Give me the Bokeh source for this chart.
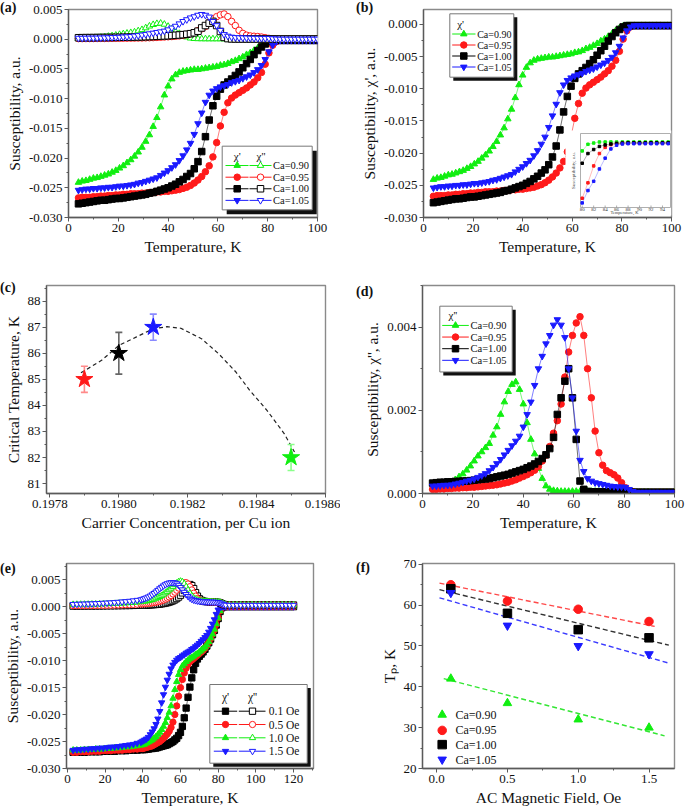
import math
from bokeh.plotting import figure
from bokeh.layouts import column, row
from bokeh.models import Range1d, SingleIntervalTicker, NumeralTickFormatter, Div, Label
from bokeh.embed import file_html
from bokeh.resources import INLINE

FONT = "Liberation Serif"
GREEN, RED, BLACK, BLUE = "#11ee11", "#ff1a1a", "#000000", "#1a1aff"

# ---------------------------------------------------------------- data
ca_labels = ["Ca=0.90", "Ca=0.95", "Ca=1.00", "Ca=1.05"]
ca_colors = [GREEN, RED, BLACK, BLUE]
ca_markers = ["triangle", "circle", "square", "inverted_triangle"]

T_ab = [4.0, 5.5, 7.0, 8.5, 10.0, 11.5, 13.0, 14.5, 16.0, 17.5, 19.0, 20.5, 22.0, 23.5, 25.0, 26.5,
        28.0, 29.5, 31.0, 32.5, 34.0, 35.5, 37.0, 38.5, 40.0, 41.5, 43.0, 44.5, 46.0, 47.5, 49.0, 50.5,
        52.0, 53.5, 55.0, 56.5, 58.0, 59.5, 61.0, 62.5, 64.0, 65.5, 67.0, 68.5, 70.0, 71.5, 73.0, 74.5,
        76.0, 77.5, 79.0, 80.5, 82.0, 83.5, 85.0, 86.5, 88.0, 89.5, 91.0, 92.5, 94.0, 95.5, 97.0, 98.5, 100.0]

chi1_090 = [-0.0241, -0.0239, -0.0238, -0.0236, -0.0234, -0.0233, -0.0231, -0.0229, -0.0227, -0.0224,
            -0.0221, -0.0217, -0.0213, -0.0208, -0.0203, -0.0197, -0.0190, -0.0182, -0.0172, -0.0161,
            -0.0147, -0.0132, -0.0114, -0.0094, -0.0079, -0.0067, -0.0060, -0.0056, -0.0054, -0.0053,
            -0.0052, -0.0051, -0.0051, -0.0050, -0.0049, -0.0048, -0.0047, -0.0046, -0.0044, -0.0043,
            -0.0041, -0.0038, -0.0036, -0.0033, -0.0030, -0.0026, -0.0023, -0.0019, -0.0015, -0.0010,
            -0.0006, -0.0003, -0.0002, -0.0002, -0.0002, -0.0002, -0.0002, -0.0002, -0.0002, -0.0002,
            -0.0002, -0.0002, -0.0002, -0.0002, -0.0002]
chi1_095 = [-0.0267, -0.0266, -0.0266, -0.0266, -0.0265, -0.0265, -0.0264, -0.0264, -0.0263, -0.0263,
            -0.0262, -0.0262, -0.0261, -0.0261, -0.0260, -0.0260, -0.0260, -0.0259, -0.0259, -0.0258,
            -0.0258, -0.0257, -0.0257, -0.0256, -0.0256, -0.0255, -0.0254, -0.0253, -0.0251, -0.0249,
            -0.0246, -0.0242, -0.0237, -0.0231, -0.0223, -0.0213, -0.0198, -0.0174, -0.0146, -0.0123,
            -0.0107, -0.0099, -0.0094, -0.0090, -0.0086, -0.0082, -0.0077, -0.0072, -0.0065, -0.0056,
            -0.0042, -0.0023, -0.0010, -0.0004, -0.0002, -0.0002, -0.0002, -0.0002, -0.0002, -0.0002,
            -0.0002, -0.0002, -0.0002, -0.0002, -0.0002]
chi1_100 = [-0.0277, -0.0276, -0.0275, -0.0274, -0.0273, -0.0272, -0.0271, -0.0271, -0.0270, -0.0269,
            -0.0268, -0.0268, -0.0267, -0.0266, -0.0265, -0.0264, -0.0263, -0.0262, -0.0261, -0.0259,
            -0.0258, -0.0256, -0.0254, -0.0252, -0.0250, -0.0247, -0.0244, -0.0240, -0.0236, -0.0231,
            -0.0226, -0.0218, -0.0206, -0.0189, -0.0164, -0.0136, -0.0112, -0.0096, -0.0084, -0.0077,
            -0.0072, -0.0067, -0.0061, -0.0055, -0.0048, -0.0041, -0.0034, -0.0026, -0.0019, -0.0013,
            -0.0008, -0.0004, -0.0002, -0.0002, -0.0002, -0.0002, -0.0002, -0.0002, -0.0002, -0.0002,
            -0.0002, -0.0002, -0.0002, -0.0002, -0.0002]
chi1_105 = [-0.0254, -0.0253, -0.0252, -0.0252, -0.0251, -0.0251, -0.0250, -0.0250, -0.0249, -0.0249,
            -0.0248, -0.0247, -0.0247, -0.0246, -0.0245, -0.0244, -0.0242, -0.0241, -0.0239, -0.0237,
            -0.0235, -0.0233, -0.0229, -0.0225, -0.0221, -0.0216, -0.0211, -0.0204, -0.0196, -0.0186,
            -0.0175, -0.0160, -0.0142, -0.0124, -0.0106, -0.0094, -0.0087, -0.0083, -0.0080, -0.0078,
            -0.0076, -0.0073, -0.0071, -0.0069, -0.0066, -0.0063, -0.0060, -0.0056, -0.0051, -0.0044,
            -0.0034, -0.0021, -0.0010, -0.0004, -0.0002, -0.0002, -0.0002, -0.0002, -0.0002, -0.0002,
            -0.0002, -0.0002, -0.0002, -0.0002, -0.0002]

chi2_090 = [0.00013, 0.00015, 0.00017, 0.00020, 0.00023, 0.00027, 0.00033, 0.00040, 0.00047, 0.00056,
            0.00066, 0.00078, 0.00090, 0.00100, 0.00110, 0.00120, 0.00140, 0.00160, 0.00190, 0.00220,
            0.00245, 0.00262, 0.00268, 0.00250, 0.00215, 0.00170, 0.00130, 0.00095, 0.00060, 0.00036,
            0.00018, 0.00010, 0.00007, 0.00006, 0.00005, 0.00005, 0.00005, 0.00005, 0.00005, 0.00005,
            0.00005, 0.00005, 0.00005, 0.00005, 0.00005, 0.00005, 0.00005, 0.00005, 0.00005, 0.00005,
            0.00004, 0.00004, 0.00004, 0.00004, 0.00004, 0.00004, 0.00004, 0.00004, 0.00003, 0.00003,
            0.00003, 0.00003, 0.00003, 0.00003, 0.00003]
chi2_095 = [0.00010, 0.00010, 0.00011, 0.00011, 0.00012, 0.00012, 0.00013, 0.00013, 0.00014, 0.00014,
            0.00015, 0.00015, 0.00016, 0.00017, 0.00018, 0.00019, 0.00020, 0.00021, 0.00023, 0.00025,
            0.00027, 0.00030, 0.00033, 0.00037, 0.00041, 0.00045, 0.00050, 0.00056, 0.00065, 0.00078,
            0.00092, 0.00113, 0.00145, 0.00175, 0.00215, 0.00280, 0.00340, 0.00380, 0.00410, 0.00425,
            0.00380, 0.00300, 0.00230, 0.00150, 0.00098, 0.00068, 0.00055, 0.00050, 0.00045, 0.00037,
            0.00026, 0.00014, 0.00007, 0.00004, 0.00003, 0.00003, 0.00003, 0.00003, 0.00003, 0.00003,
            0.00003, 0.00003, 0.00003, 0.00003, 0.00003]
chi2_100 = [0.00025, 0.00026, 0.00027, 0.00027, 0.00028, 0.00028, 0.00029, 0.00029, 0.00030, 0.00030,
            0.00031, 0.00032, 0.00033, 0.00034, 0.00035, 0.00036, 0.00038, 0.00040, 0.00042, 0.00044,
            0.00046, 0.00049, 0.00052, 0.00055, 0.00058, 0.00062, 0.00066, 0.00071, 0.00077, 0.00084,
            0.00093, 0.00108, 0.00135, 0.00190, 0.00230, 0.00270, 0.00300, 0.00230, 0.00130, 0.00030,
            0.00010, 0.00005, 0.00004, 0.00004, 0.00004, 0.00004, 0.00004, 0.00004, 0.00004, 0.00004,
            0.00004, 0.00004, 0.00004, 0.00003, 0.00003, 0.00003, 0.00003, 0.00003, 0.00003, 0.00003,
            0.00003, 0.00003, 0.00003, 0.00003, 0.00003]
chi2_105 = [0.00018, 0.00018, 0.00019, 0.00020, 0.00020, 0.00021, 0.00023, 0.00025, 0.00027, 0.00030,
            0.00032, 0.00035, 0.00039, 0.00043, 0.00048, 0.00055, 0.00063, 0.00072, 0.00082, 0.00093,
            0.00104, 0.00115, 0.00126, 0.00138, 0.00160, 0.00190, 0.00220, 0.00260, 0.00300, 0.00330,
            0.00360, 0.00380, 0.00405, 0.00418, 0.00405, 0.00375, 0.00300, 0.00230, 0.00150, 0.00080,
            0.00053, 0.00036, 0.00030, 0.00026, 0.00024, 0.00022, 0.00020, 0.00018, 0.00017, 0.00016,
            0.00016, 0.00015, 0.00010, 0.00005, 0.00003, 0.00003, 0.00003, 0.00003, 0.00003, 0.00003,
            0.00003, 0.00003, 0.00003, 0.00003, 0.00003]

# inset of panel (b)
T_ins = [80, 81, 82, 83, 84, 85, 86, 87, 88, 89, 90, 91, 92, 93, 94, 95]
ins_090 = [-0.00053, -0.00010, -0.00002, 0.00005, 0.00005, 0.00005, 0.00005, 0.00005, 0.00005, 0.00005,
           0.00005, 0.00005, 0.00005, 0.00005, 0.00005, 0.00005]
ins_095 = [-0.00360, -0.00260, -0.00150, -0.00070, -0.00030, -0.00012, -0.00006, -0.00004, -0.00003,
           -0.00003, -0.00003, -0.00003, -0.00003, -0.00003, -0.00003, -0.00003]
ins_100 = [-0.00133, -0.00070, -0.00044, -0.00024, -0.00014, -0.00008, -0.00004, -0.00002, 0.00000,
           0.00000, 0.00000, 0.00000, 0.00000, 0.00000, 0.00000, 0.00000]
ins_105 = [-0.00390, -0.00310, -0.00250, -0.00170, -0.00100, -0.00040, -0.00016, -0.00008, -0.00006,
           -0.00006, -0.00006, -0.00006, -0.00006, -0.00006, -0.00006, -0.00006]
ins_ticks = [80, 82, 84, 86, 88, 90, 92, 94]

# panel (c)
conc = [0.1979, 0.1980, 0.1981, 0.1985]
tc = [85.0, 86.0, 87.0, 82.0]
tc_err = [0.5, 0.8, 0.5, 0.5]
tc_colors = [RED, BLACK, BLUE, GREEN]
tc_err_colors = ["#ff8a8a", "#666666", "#8a8aff", "#8aff8a"]
fitc_x = [0.19789, 0.19795, 0.19800, 0.19805, 0.19810, 0.19814, 0.19818, 0.19824, 0.19829,
          0.19834, 0.19838, 0.19843, 0.19848, 0.19851]
fitc_y = [85.25, 85.73, 86.30, 86.62, 86.94, 87.02, 86.96, 86.56, 85.98, 85.28, 84.58, 83.81, 82.92, 82.21]

# panel (e)
field_labels = ["0.1 Oe", "0.5 Oe", "1.0 Oe", "1.5 Oe"]
field_colors = [BLACK, RED, GREEN, BLUE]
field_markers = ["square", "circle", "triangle", "inverted_triangle"]
T_e = [3, 5, 7, 9, 11, 13, 15, 17, 19, 21, 23, 25, 27, 29, 31, 33, 35, 37, 39,
       40, 41, 42, 43, 44, 45, 46, 47, 48, 49, 50, 51, 52, 53, 54, 55, 56, 57, 58, 59,
       60, 61, 62, 63, 64, 65, 66, 67, 68, 69, 70, 71, 72, 73, 74, 75, 76, 77, 78, 79,
       80, 81, 82, 83, 84,
       86, 88, 90, 92, 94, 96, 98, 100, 102, 104, 106, 108, 110, 112, 114, 116, 118, 120]
e1_01 = [-0.0270, -0.0270, -0.0270, -0.0270, -0.0269, -0.0269, -0.0269, -0.0269, -0.0268, -0.0268,
         -0.0268, -0.0268, -0.0267, -0.0267, -0.0267, -0.0266, -0.0266, -0.0266, -0.0265,
         -0.0265, -0.0265, -0.0264, -0.0264, -0.0263, -0.0263, -0.0262, -0.0262, -0.0261, -0.0260,
         -0.0259, -0.0258, -0.0257, -0.0256, -0.0254, -0.0252, -0.0250, -0.0247, -0.0244, -0.0239,
         -0.0233, -0.0222, -0.0206, -0.0188, -0.0168, -0.0149, -0.0132, -0.0117, -0.0105, -0.0097,
         -0.0092, -0.0088, -0.0084, -0.0079, -0.0073, -0.0067, -0.0060, -0.0052, -0.0044, -0.0034,
         -0.0022, -0.0009, -0.0002, 0.0000, 0.0000,
         0.0, 0.0, 0.0, 0.0, 0.0, 0.0, 0.0, 0.0, 0.0, 0.0, 0.0, 0.0, 0.0, 0.0, 0.0, 0.0, 0.0, 0.0]
e1_05 = [-0.0270, -0.0270, -0.0269, -0.0269, -0.0269, -0.0268, -0.0268, -0.0268, -0.0267, -0.0267,
         -0.0267, -0.0266, -0.0266, -0.0266, -0.0265, -0.0265, -0.0264, -0.0264, -0.0263,
         -0.0263, -0.0262, -0.0261, -0.0260, -0.0259, -0.0258, -0.0256, -0.0254, -0.0252, -0.0250,
         -0.0247, -0.0244, -0.0240, -0.0236, -0.0231, -0.0224, -0.0214, -0.0200, -0.0184, -0.0166,
         -0.0150, -0.0135, -0.0123, -0.0114, -0.0107, -0.0102, -0.0099, -0.0096, -0.0093, -0.0090,
         -0.0087, -0.0084, -0.0081, -0.0077, -0.0072, -0.0066, -0.0059, -0.0051, -0.0043, -0.0033,
         -0.0021, -0.0008, -0.0002, 0.0000, 0.0000,
         0.0, 0.0, 0.0, 0.0, 0.0, 0.0, 0.0, 0.0, 0.0, 0.0, 0.0, 0.0, 0.0, 0.0, 0.0, 0.0, 0.0, 0.0]
e1_10 = [-0.0266, -0.0266, -0.0266, -0.0265, -0.0265, -0.0265, -0.0264, -0.0264, -0.0264, -0.0263,
         -0.0263, -0.0262, -0.0262, -0.0261, -0.0260, -0.0260, -0.0259, -0.0258, -0.0257,
         -0.0256, -0.0255, -0.0253, -0.0251, -0.0249, -0.0247, -0.0244, -0.0241, -0.0237, -0.0233,
         -0.0228, -0.0222, -0.0215, -0.0206, -0.0196, -0.0184, -0.0170, -0.0154, -0.0139, -0.0126,
         -0.0117, -0.0110, -0.0106, -0.0102, -0.0099, -0.0096, -0.0094, -0.0092, -0.0089, -0.0087,
         -0.0084, -0.0081, -0.0078, -0.0075, -0.0071, -0.0065, -0.0058, -0.0051, -0.0042, -0.0032,
         -0.0021, -0.0008, -0.0002, 0.0000, 0.0000,
         0.0, 0.0, 0.0, 0.0, 0.0, 0.0, 0.0, 0.0, 0.0, 0.0, 0.0, 0.0, 0.0, 0.0, 0.0, 0.0, 0.0, 0.0]
e1_15 = [-0.0266, -0.0265, -0.0265, -0.0264, -0.0264, -0.0263, -0.0263, -0.0262, -0.0262, -0.0261,
         -0.0260, -0.0260, -0.0259, -0.0258, -0.0257, -0.0256, -0.0255, -0.0253, -0.0251,
         -0.0249, -0.0247, -0.0245, -0.0242, -0.0237, -0.0232, -0.0226, -0.0218, -0.0208, -0.0194,
         -0.0178, -0.0163, -0.0149, -0.0136, -0.0125, -0.0115, -0.0108, -0.0103, -0.0099, -0.0096,
         -0.0094, -0.0091, -0.0089, -0.0086, -0.0084, -0.0082, -0.0079, -0.0077, -0.0074, -0.0071,
         -0.0068, -0.0064, -0.0061, -0.0057, -0.0053, -0.0047, -0.0040, -0.0032, -0.0024, -0.0014,
         -0.0006, -0.0001, 0.0000, 0.0000, 0.0000,
         0.0, 0.0, 0.0, 0.0, 0.0, 0.0, 0.0, 0.0, 0.0, 0.0, 0.0, 0.0, 0.0, 0.0, 0.0, 0.0, 0.0, 0.0]
e2_01 = [0.00010, 0.00010, 0.00011, 0.00011, 0.00012, 0.00012, 0.00013, 0.00013, 0.00014, 0.00015,
         0.00016, 0.00017, 0.00018, 0.00019, 0.00020, 0.00021, 0.00023, 0.00025, 0.00027,
         0.00028, 0.00029, 0.00030, 0.00032, 0.00034, 0.00036, 0.00038, 0.00041, 0.00044, 0.00048,
         0.00053, 0.00059, 0.00066, 0.00074, 0.00084, 0.00096, 0.00110, 0.00128, 0.00150, 0.00178,
         0.00212, 0.00255, 0.00300, 0.00350, 0.00390, 0.00410, 0.00390, 0.00335, 0.00260, 0.00195,
         0.00145, 0.00118, 0.00103, 0.00096, 0.00092, 0.00090, 0.00088, 0.00087, 0.00085, 0.00083,
         0.00080, 0.00072, 0.00055, 0.00040, 0.00032,
         0.0003, 0.0003, 0.0003, 0.0003, 0.0003, 0.0003, 0.0003, 0.0003, 0.0003, 0.0003, 0.0003, 0.0003,
         0.0003, 0.0003, 0.0003, 0.0003, 0.0003, 0.0003]
e2_05 = [0.00020, 0.00020, 0.00021, 0.00021, 0.00022, 0.00022, 0.00023, 0.00024, 0.00025, 0.00026,
         0.00027, 0.00029, 0.00031, 0.00033, 0.00035, 0.00038, 0.00041, 0.00045, 0.00049,
         0.00051, 0.00054, 0.00057, 0.00061, 0.00065, 0.00070, 0.00076, 0.00083, 0.00091, 0.00100,
         0.00111, 0.00124, 0.00140, 0.00158, 0.00180, 0.00205, 0.00235, 0.00268, 0.00305, 0.00345,
         0.00385, 0.00420, 0.00442, 0.00445, 0.00420, 0.00370, 0.00310, 0.00250, 0.00195, 0.00150,
         0.00125, 0.00110, 0.00100, 0.00095, 0.00092, 0.00090, 0.00088, 0.00087, 0.00085, 0.00083,
         0.00080, 0.00072, 0.00055, 0.00040, 0.00032,
         0.0003, 0.0003, 0.0003, 0.0003, 0.0003, 0.0003, 0.0003, 0.0003, 0.0003, 0.0003, 0.0003, 0.0003,
         0.0003, 0.0003, 0.0003, 0.0003, 0.0003, 0.0003]
e2_10 = [0.00040, 0.00041, 0.00042, 0.00043, 0.00044, 0.00045, 0.00047, 0.00049, 0.00051, 0.00053,
         0.00055, 0.00058, 0.00061, 0.00064, 0.00068, 0.00072, 0.00077, 0.00083, 0.00090,
         0.00094, 0.00099, 0.00105, 0.00112, 0.00120, 0.00130, 0.00141, 0.00154, 0.00168, 0.00185,
         0.00205, 0.00228, 0.00253, 0.00280, 0.00310, 0.00340, 0.00372, 0.00405, 0.00435, 0.00460,
         0.00470, 0.00460, 0.00425, 0.00370, 0.00310, 0.00250, 0.00200, 0.00160, 0.00135, 0.00120,
         0.00110, 0.00104, 0.00100, 0.00097, 0.00095, 0.00093, 0.00092, 0.00090, 0.00089, 0.00087,
         0.00085, 0.00078, 0.00062, 0.00045, 0.00035,
         0.00032, 0.00032, 0.00032, 0.00032, 0.00032, 0.00032, 0.00032, 0.00032, 0.00032, 0.00032,
         0.00032, 0.00032, 0.00032, 0.00032, 0.00032, 0.00032, 0.00032, 0.00032]
e2_15 = [0.00045, 0.00047, 0.00049, 0.00051, 0.00053, 0.00056, 0.00059, 0.00062, 0.00066, 0.00070,
         0.00074, 0.00079, 0.00084, 0.00090, 0.00096, 0.00103, 0.00111, 0.00120, 0.00130,
         0.00140, 0.00152, 0.00166, 0.00182, 0.00200, 0.00222, 0.00248, 0.00275, 0.00305, 0.00335,
         0.00362, 0.00388, 0.00410, 0.00428, 0.00440, 0.00447, 0.00448, 0.00442, 0.00428, 0.00400,
         0.00360, 0.00315, 0.00270, 0.00228, 0.00192, 0.00162, 0.00140, 0.00125, 0.00115, 0.00108,
         0.00103, 0.00099, 0.00096, 0.00093, 0.00091, 0.00089, 0.00088, 0.00087, 0.00086, 0.00084,
         0.00080, 0.00072, 0.00055, 0.00040, 0.00030,
         0.00028, 0.00028, 0.00028, 0.00028, 0.00028, 0.00028, 0.00028, 0.00028, 0.00028, 0.00028,
         0.00028, 0.00028, 0.00028, 0.00028, 0.00028, 0.00028, 0.00028, 0.00028]

# panel (f)
field = [0.1, 0.5, 1.0, 1.5]
tp_090 = [42, 36, 32, 30]
tp_095 = [65, 61, 59, 56]
tp_100 = [64, 58, 54, 52]
tp_105 = [63, 55, 50, 48]
fitf_x = {"090": [0.05, 1.61], "095": [0.02, 1.54], "100": [0.02, 1.64], "105": [0.02, 1.64]}
fitf_y = {"090": [42.0, 28.0], "095": [65.4, 54.8], "100": [63.8, 50.2], "105": [61.8, 45.8]}

panel_letters = ["(a)", "(b)", "(c)", "(d)", "(e)", "(f)"]

# ---------------------------------------------------------------- helpers
class Geo:
    def __init__(self, w, h, bl, br, bt, bb, xr, yr):
        self.fw = w - bl - br
        self.fh = h - bt - bb
        self.x0, self.x1 = xr
        self.y0, self.y1 = yr

    def X(self, px):
        return self.x0 + px / self.fw * (self.x1 - self.x0)

    def Y(self, py):
        return self.y1 - py / self.fh * (self.y1 - self.y0)


def make_fig(w, h, bl, br, bt, bb, xr, yr):
    p = figure(width=w, height=h, x_range=Range1d(*xr), y_range=Range1d(*yr),
               output_backend="svg", toolbar_location=None,
               min_border_left=bl, min_border_right=br, min_border_top=bt, min_border_bottom=bb)
    p.xgrid.visible = False
    p.ygrid.visible = False
    p.outline_line_color = "#8a8a8a"
    p.outline_line_width = 1.4
    p.background_fill_color = "white"
    p.border_fill_color = "white"
    return p, Geo(w, h, bl, br, bt, bb, xr, yr)


def style_axes(p, xint, yint, xfmt, yfmt, xlabel, ylabel):
    p.xaxis.ticker = SingleIntervalTicker(interval=xint, num_minor_ticks=2)
    p.yaxis.ticker = SingleIntervalTicker(interval=yint, num_minor_ticks=2)
    p.xaxis.formatter = NumeralTickFormatter(format=xfmt)
    p.yaxis.formatter = NumeralTickFormatter(format=yfmt)
    p.xaxis.axis_label = xlabel
    p.yaxis.axis_label = ylabel
    for ax in (p.xaxis[0], p.yaxis[0]):
        ax.axis_line_color = "#5a5a5a"
        ax.axis_line_width = 1.3
        ax.major_tick_line_color = "#5a5a5a"
        ax.minor_tick_line_color = "#5a5a5a"
        ax.major_tick_in = 0
        ax.major_tick_out = 4
        ax.minor_tick_in = 0
        ax.minor_tick_out = 2
        ax.major_label_text_font = FONT
        ax.major_label_text_font_size = "13px"
        ax.major_label_text_color = "#111111"
        ax.major_label_standoff = 2
        ax.axis_label_text_font = FONT
        ax.axis_label_text_font_size = "15.5px"
        ax.axis_label_text_font_style = "normal"
        ax.axis_label_text_color = "#111111"
        ax.axis_label_standoff = 3


def letter(text, top, left, fig_right_span):
    # overlay div: pulled back over the preceding figure, takes no net width
    return Div(text=text, width=24, height=18, margin=(top, fig_right_span - 24 - left, 0, -fig_right_span + left),
               styles={"font-family": FONT, "font-size": "14px", "font-weight": "bold",
                       "line-height": "16px", "color": "#111111", "white-space": "nowrap"})


def series(p, x, y, color, marker, size, fill=None, lw=0.8, la=0.7, **kw):
    p.line(x, y, line_color=color, line_width=lw, line_alpha=la, **kw)
    p.scatter(x, y, marker=marker, size=size, fill_color=(fill or color), line_color=color,
              line_width=1, **kw)


def txt(p, g, xs, ys, texts, size, align="left", baseline="middle", color="#111111", angle=0.0):
    for xv, yv, t in zip(xs, ys, texts):
        p.add_layout(Label(x=g.X(xv), y=g.Y(yv), text=t, text_font=FONT, text_font_size=size,
                           text_align=align, text_baseline=baseline, text_color=color,
                           angle=angle))


def legend_box(p, g, l, t, r, b, sh):
    p.quad(left=[g.X(l + sh)], right=[g.X(r + sh)], top=[g.Y(t + sh)], bottom=[g.Y(b + sh)],
           fill_color="#111111", line_color=None)
    p.quad(left=[g.X(l)], right=[g.X(r)], top=[g.Y(t)], bottom=[g.Y(b)],
           fill_color="white", line_color="#777777", line_width=1)


def sample(p, g, x0, x1, xm, y, color, marker, fill, size, line=True):
    if line:
        p.line([g.X(x0), g.X(x1)], [g.Y(y), g.Y(y)], line_color=color, line_width=1)
    p.scatter([g.X(xm)], [g.Y(y)], marker=marker, size=size, fill_color=fill, line_color=color,
              line_width=1)


chi1 = [chi1_090, chi1_095, chi1_100, chi1_105]
chi2 = [chi2_090, chi2_095, chi2_100, chi2_105]

# ---------------------------------------------------------------- (a)
XR_A, YR_A = (0, 100), (-0.030, 0.005)
pa, ga = make_fig(340, 276, 68, 23, 7, 59, XR_A, YR_A)
style_axes(pa, 20, 0.005, "0", "0.000", "Temperature, K", "Susceptibility, a.u.")
for c1, col, mk in zip(chi1, ca_colors, ca_markers):
    series(pa, T_ab, c1, col, mk, 6.5)
for c2, col, mk in zip(chi2, ca_colors, ca_markers):
    series(pa, T_ab, c2, col, mk, 6.5, fill="white")
legend_box(pa, ga, 153.7, 138, 243.7, 202.3, 4.5)
txt(pa, ga, [168.7, 192.5], [148, 148], ["χ'", "χ''"], "11px", align="center")
rows_a = [157.5, 169.3, 181, 192.7]
for y, col, mk in zip(rows_a, ca_colors, ca_markers):
    sample(pa, ga, 157, 180, 168.7, y, col, mk, col, 6.5)
    sample(pa, ga, 181, 203, 192, y, col, mk, "white", 6.5)
txt(pa, ga, [204.5] * 4, rows_a, ca_labels, "10.5px")

# ---------------------------------------------------------------- (b)
XR_B, YR_B = (0, 100), (-0.030, 0.0023)
pb, gb = make_fig(345, 276, 83, 14, 9, 59, XR_B, YR_B)
style_axes(pb, 20, 0.005, "0", "0.000", "Temperature, K", "Susceptibility, χ', a.u.")
for c1, col, mk in zip(chi1, ca_colors, ca_markers):
    series(pb, T_ab, c1, col, mk, 6.5)

# inset (its own scales, mapped onto a corner of the frame)
ins_px = (157, 124, 247, 198)
ins_xr, ins_yr = (79.7, 95.4), (-0.0042, 0.0006)
sxp = (ins_xr[1] - ins_xr[0]) / (ins_px[2] - ins_px[0])
syp = (ins_yr[1] - ins_yr[0]) / (ins_px[3] - ins_px[1])
xs0 = ins_xr[0] - ins_px[0] * sxp
ytop = ins_yr[1] + ins_px[1] * syp
pb.extra_x_ranges = {"ins": Range1d(xs0, xs0 + gb.fw * sxp)}
pb.extra_y_ranges = {"ins": Range1d(ytop - gb.fh * syp, ytop)}
pb.quad(left=[gb.X(142)], right=[gb.X(248)], top=[gb.Y(121)], bottom=[gb.Y(206)],
        fill_color="white", line_color=None)
INS = dict(x_range_name="ins", y_range_name="ins")
pb.quad(left=[ins_xr[0]], right=[ins_xr[1]], top=[ins_yr[1]], bottom=[ins_yr[0]],
        fill_color=None, line_color="#9a9a9a", line_width=0.8, **INS)
for yv, col in zip([ins_090, ins_095, ins_100, ins_105], ca_colors):
    pb.line(T_ins, yv, line_color=col, line_width=0.5, line_alpha=0.6, **INS)
    pb.scatter(T_ins, yv, marker="square", size=2.5, fill_color=col, line_color=col, **INS)
pb.segment(x0=ins_ticks, y0=[ins_yr[0]] * len(ins_ticks), x1=ins_ticks,
           y1=[ins_yr[0] + 2 * syp] * len(ins_ticks), line_color="#777777", line_width=0.6, **INS)
for t in ins_ticks:
    pb.add_layout(Label(x=t, y=ins_yr[0] - 0.5 * syp, text=str(t), text_font=FONT,
                        text_font_size="5px", text_align="center", text_baseline="top",
                        text_color="#333333", **INS))
txt(pb, gb, [201], [205], ["Temperature, K"], "4.5px", align="center", baseline="bottom",
    color="#444444")
txt(pb, gb, [150], [161], ["Susceptibility, a.u."], "5px", align="center", color="#444444",
    angle=math.pi / 2)

legend_box(pb, gb, 26.3, 4.3, 90.3, 67.7, 3.5)
txt(pb, gb, [33.7], [14.3], ["χ'"], "11px")
rows_b = [24.5, 35.5, 46.5, 57.5]
for y, col, mk in zip(rows_b, ca_colors, ca_markers):
    sample(pb, gb, 28.7, 52, 40.3, y, col, mk, col, 6.5)
txt(pb, gb, [53.7] * 4, rows_b, ca_labels, "10px")

# ---------------------------------------------------------------- (c)
XR_C, YR_C = (0.19779, 0.1986), (80.62, 88.6)
pc, gc = make_fig(340, 276, 46, 15, 9, 59, XR_C, YR_C)
style_axes(pc, 0.0002, 1, "0.0000", "0", "Carrier Concentration, per Cu ion",
           "Critical Temperature, K")
pc.line(fitc_x, fitc_y, line_color="#222222", line_width=1.2, line_dash="4 3")
lo = [t - e for t, e in zip(tc, tc_err)]
hi = [t + e for t, e in zip(tc, tc_err)]
pc.segment(x0=conc, y0=lo, x1=conc, y1=hi, line_color=tc_err_colors, line_width=1.6)
pc.scatter(conc + conc, lo + hi, marker="dash", size=7, line_color=tc_err_colors + tc_err_colors,
           line_width=1.6)
pc.scatter(conc, tc, marker="star", size=18, fill_color=tc_colors, line_color=tc_colors)

# ---------------------------------------------------------------- (d)
XR_D, YR_D = (0, 100), (0, 0.005)
pd, gd = make_fig(345, 276, 82, 11, 7, 58, XR_D, YR_D)
style_axes(pd, 20, 0.002, "0", "0.000", "Temperature, K", "Susceptibility, χ'', a.u.")
for c2, col, mk in zip(chi2, ca_colors, ca_markers):
    series(pd, T_ab, c2, col, mk, 6.5)
legend_box(pd, gd, 17.3, 21, 89.7, 87.7, 3.5)
txt(pd, gd, [26], [29.7], ["χ''"], "11px")
rows_d = [40.5, 52.3, 64.1, 75.9]
for y, col, mk in zip(rows_d, ca_colors, ca_markers):
    sample(pd, gd, 19.7, 46.3, 33, y, col, mk, col, 6.5)
txt(pd, gd, [48] * 4, rows_d, ca_labels, "10.5px")

# ---------------------------------------------------------------- (e)
XR_E, YR_E = (-0.5, 130.6), (-0.030, 0.008)
pe, ge = make_fig(340, 259, 66, 27, 11, 43, XR_E, YR_E)
style_axes(pe, 20, 0.005, "0", "0.000", "Temperature, K", "Susceptibility, a.u.")
e1 = [e1_01, e1_05, e1_10, e1_15]
e2 = [e2_01, e2_05, e2_10, e2_15]
for c1, col, mk in zip(e1, field_colors, field_markers):
    series(pe, T_e, c1, col, mk, 6.3)
for c2, col, mk in zip(e2, field_colors, field_markers):
    series(pe, T_e, c2, col, mk, 6.3, fill="white")
legend_box(pe, ge, 143.3, 121, 240.7, 199.7, 3.5)
txt(pe, ge, [159, 186], [133, 133], ["χ'", "χ''"], "11.5px", align="center")
rows_e = [147.7, 161, 174.3, 187.7]
for y, col, mk in zip(rows_e, field_colors, field_markers):
    sample(pe, ge, 147.3, 170.7, 159, y, col, mk, col, 6.3)
    sample(pe, ge, 172.3, 199, 186, y, col, mk, "white", 6.3)
txt(pe, ge, [202.3] * 4, rows_e, field_labels, "11.5px")

# ---------------------------------------------------------------- (f)
XR_F, YR_F = (-0.1, 1.68), (20, 70.2)
pf, gf = make_fig(345, 259, 82, 11, 11, 42, XR_F, YR_F)
style_axes(pf, 0.5, 10, "0.0", "0", "AC Magnetic Field, Oe", "Tₚ, K")
fit_cols = {"090": "#33e633", "095": "#ff4a4a", "100": "#333333", "105": "#3a3aff"}
for key in ["095", "100", "105", "090"]:
    pf.line(fitf_x[key], fitf_y[key], line_color=fit_cols[key], line_width=1.4, line_dash="5 3")
for tp, col, mk in zip([tp_090, tp_095, tp_100, tp_105], ca_colors, ca_markers):
    pf.scatter(field, tp, marker=mk, size=8.5, fill_color=col, line_color=col)
rows_f = [152, 167.7, 182, 197]
for y, col, mk in zip(rows_f, ca_colors, ca_markers):
    sample(pf, gf, 0, 0, 19.7, y, col, mk, col, 8.5, line=False)
txt(pf, gf, [33] * 4, rows_f, ca_labels, "12px")

# ---------------------------------------------------------------- layout
layout = column(
    row(pa, letter(panel_letters[0], 0, 0, 340), pb, letter(panel_letters[1], 0, 16, 345)),
    row(pc, letter(panel_letters[2], 4, 0, 340), pd, letter(panel_letters[3], 8, 16, 345)),
    row(pe, letter(panel_letters[4], 9, 0, 340), pf, letter(panel_letters[5], 8, 16, 345)),
)
open("out.html", "w").write(file_html(layout, INLINE))
